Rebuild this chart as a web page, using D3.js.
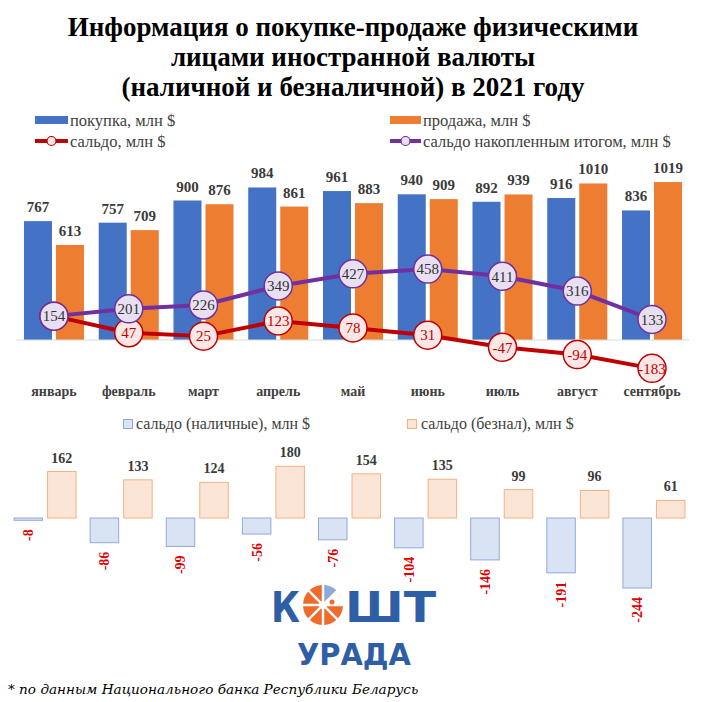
<!DOCTYPE html>
<html>
<head>
<meta charset="utf-8">
<script src="https://cdn.jsdelivr.net/npm/d3@7"></script>
<style>
body { margin: 0; background: #fff; }
svg { display: block; }
</style>
</head>
<body>
<script>
var w = 706;
var h = 702;

// data
var months = ["январь", "февраль", "март", "апрель", "май", "июнь", "июль", "август", "сентябрь"];
var buy = [767, 757, 900, 984, 961, 940, 892, 916, 836];
var sell = [613, 709, 876, 861, 883, 909, 939, 1010, 1019];
var saldo = [154, 47, 25, 123, 78, 31, -47, -94, -183];
var saldoCum = [154, 201, 226, 349, 427, 458, 411, 316, 133];
var saldoCash = [-8, -86, -99, -56, -76, -104, -146, -191, -244];
var saldoNonCash = [162, 133, 124, 180, 154, 135, 99, 96, 61];

var titleLines = ["Информация о покупке-продаже физическими", "лицами иностранной валюты", "(наличной и безналичной) в 2021 году"];

var serif = "'Liberation Serif', 'Times New Roman', serif";
var blue = "#4472c4", orange = "#ed7d31", red = "#c00000", purple = "#7030a0";

var svg = d3.select("body")
    .append("svg")
    .attr("width", w)
    .attr("height", h)
    .style("font-family", serif);

// title
svg.append("g").selectAll("text")
    .data(titleLines)
    .enter()
    .append("text")
    .attr("x", w / 2)
    .attr("y", function(d, i){ return 36 + i * 30; })
    .attr("text-anchor", "middle")
    .style("font-family", serif)
    .style("font-size", "27px")
    .style("font-weight", "bold")
    .style("fill", "#000")
    .text(function(d){ return d; });

// top legend
var leg = svg.append("g").style("font-family", serif).style("font-size", "16.5px").style("fill", "#404040");
leg.append("rect").attr("x", 35).attr("y", 116).attr("width", 33).attr("height", 8).attr("fill", blue);
leg.append("text").attr("x", 70).attr("y", 126).text("покупка, млн $");
leg.append("rect").attr("x", 390).attr("y", 116).attr("width", 31).attr("height", 8).attr("fill", orange);
leg.append("text").attr("x", 423).attr("y", 126).text("продажа, млн $");
leg.append("line").attr("x1", 35).attr("x2", 68).attr("y1", 141).attr("y2", 141).attr("stroke", red).attr("stroke-width", 4);
leg.append("circle").attr("cx", 51.5).attr("cy", 141).attr("r", 4.5).attr("fill", "#fde4e4").attr("stroke", red).attr("stroke-width", 1.2);
leg.append("text").attr("x", 70).attr("y", 147).text("сальдо, млн $");
leg.append("line").attr("x1", 390).attr("x2", 421).attr("y1", 141).attr("y2", 141).attr("stroke", purple).attr("stroke-width", 4);
leg.append("circle").attr("cx", 405.5).attr("cy", 141).attr("r", 4.5).attr("fill", "#e8e0f2").attr("stroke", purple).attr("stroke-width", 1.2);
leg.append("text").attr("x", 423).attr("y", 147).text("сальдо накопленным итогом, млн $");

// top chart scales
var x0 = d3.scaleBand()
    .domain(months)
    .range([16.6, 689.4])
    .paddingInner(0.197)
    .paddingOuter(0.0985);

var x1 = d3.scaleBand()
    .domain(["buy", "sell"])
    .range([0, x0.bandwidth()])
    .paddingInner(0.125);

var yTop = d3.scaleLinear()
    .domain([0, 1000])
    .range([340, 185]);

var series = [
    {key: "buy", values: buy, color: blue},
    {key: "sell", values: sell, color: orange}
];

var topG = svg.append("g");

series.forEach(function(s){
    var g = topG.append("g");
    g.selectAll("rect")
        .data(s.values)
        .enter()
        .append("rect")
        .attr("x", function(d, i){ return x0(months[i]) + x1(s.key); })
        .attr("y", function(d){ return yTop(d); })
        .attr("width", x1.bandwidth())
        .attr("height", function(d){ return yTop(0) - yTop(d); })
        .attr("fill", s.color);
    g.selectAll("text")
        .data(s.values)
        .enter()
        .append("text")
        .attr("x", function(d, i){ return x0(months[i]) + x1(s.key) + x1.bandwidth() / 2; })
        .attr("y", function(d){ return yTop(d) - 9; })
        .attr("text-anchor", "middle")
        .style("font-family", serif)
        .style("font-size", "15px")
        .style("font-weight", "bold")
        .style("fill", "#3a3a3a")
        .text(function(d){ return d; });
});

// baseline
topG.append("line")
    .attr("x1", x0.range()[0])
    .attr("x2", x0.range()[1])
    .attr("y1", yTop(0))
    .attr("y2", yTop(0))
    .attr("stroke", "#d9d9d9")
    .attr("stroke-width", 1);

// month axis
var xAxis = d3.axisBottom(x0).tickSize(0).tickPadding(0);
var axG = svg.append("g")
    .attr("transform", "translate(0,386)")
    .call(xAxis);
axG.select(".domain").remove();
axG.selectAll("text")
    .style("font-family", serif)
    .style("font-size", "14px")
    .style("font-weight", "bold")
    .style("fill", "#404040");

// lines with circle markers
function cx(i){ return x0(months[i]) + x0.bandwidth() / 2; }

var lineGen = d3.line()
    .x(function(d, i){ return cx(i); })
    .y(function(d){ return yTop(d); });

function drawLine(values, color, fill, textColor){
    var g = svg.append("g");
    g.append("path")
        .datum(values)
        .attr("d", lineGen)
        .attr("fill", "none")
        .attr("stroke", color)
        .attr("stroke-width", 4)
        .attr("stroke-linejoin", "round");
    var pts = g.selectAll("g")
        .data(values)
        .enter()
        .append("g")
        .attr("transform", function(d, i){ return "translate(" + cx(i) + "," + yTop(d) + ")"; });
    pts.append("circle")
        .attr("r", 14)
        .attr("fill", fill)
        .attr("stroke", color)
        .attr("stroke-width", 1.5);
    pts.append("text")
        .attr("text-anchor", "middle")
        .attr("dy", "0.35em")
        .style("font-family", serif)
        .style("font-size", "15px")
        .style("fill", textColor)
        .text(function(d){ return d; });
}

drawLine(saldo, red, "#fde6e6", "#c00000");
drawLine(saldoCum, purple, "#e8e0f2", "#333");

// bottom legend
var leg2 = svg.append("g").style("font-family", serif).style("font-size", "16px").style("fill", "#404040");
leg2.append("rect").attr("x", 123.5).attr("y", 419.5).attr("width", 9).attr("height", 9).attr("fill", "#dae3f3").attr("stroke", "#8faadc");
leg2.append("text").attr("x", 136).attr("y", 429).text("сальдо (наличные), млн $");
leg2.append("rect").attr("x", 407.5).attr("y", 419.5).attr("width", 9).attr("height", 9).attr("fill", "#fbe5d6").attr("stroke", "#f4b183");
leg2.append("text").attr("x", 421).attr("y", 429).text("сальдо (безнал), млн $");

// bottom chart
var bx0 = d3.scaleBand()
    .domain(months)
    .range([7, 692])
    .paddingInner(0.172)
    .paddingOuter(0.086);

var bx1 = d3.scaleBand()
    .domain(["cash", "noncash"])
    .range([0, bx0.bandwidth()])
    .paddingInner(0.12);

var yBot = d3.scaleLinear()
    .domain([0, 100])
    .range([518, 489.3]);

var bseries = [
    {key: "cash", values: saldoCash, fill: "#dae3f3", stroke: "#8faadc"},
    {key: "noncash", values: saldoNonCash, fill: "#fbe5d6", stroke: "#f4b183"}
];

var bottomG = svg.append("g");

bseries.forEach(function(s){
    var g = bottomG.append("g");
    g.selectAll("rect")
        .data(s.values)
        .enter()
        .append("rect")
        .attr("x", function(d, i){ return bx0(months[i]) + bx1(s.key) + 0.5; })
        .attr("y", function(d){ return Math.min(yBot(d), yBot(0)); })
        .attr("width", bx1.bandwidth() - 1)
        .attr("height", function(d){ return Math.abs(yBot(d) - yBot(0)); })
        .attr("fill", s.fill)
        .attr("stroke", s.stroke)
        .attr("stroke-width", 1);
});

// positive labels
bottomG.append("g").selectAll("text")
    .data(saldoNonCash)
    .enter()
    .append("text")
    .attr("x", function(d, i){ return bx0(months[i]) + bx1("noncash") + bx1.bandwidth() / 2; })
    .attr("y", function(d){ return yBot(d) - 9; })
    .attr("text-anchor", "middle")
    .style("font-family", serif)
    .style("font-size", "14px")
    .style("font-weight", "bold")
    .style("fill", "#3a3a3a")
    .text(function(d){ return d; });

// negative labels, rotated
bottomG.append("g").selectAll("text")
    .data(saldoCash)
    .enter()
    .append("text")
    .attr("transform", function(d, i){
        var x = bx0(months[i]) + bx1("cash") + bx1.bandwidth() / 2;
        return "translate(" + x + "," + (yBot(d) + 9) + ") rotate(-90)";
    })
    .attr("dy", "0.35em")
    .attr("text-anchor", "end")
    .style("font-family", serif)
    .style("font-size", "14px")
    .style("font-weight", "bold")
    .style("fill", "#e00000")
    .text(function(d){ return d; });

// logo
var logoBlue = "#2e5fa6", logoOrange = "#ef6b2b";
var logo = svg.append("g").style("font-family", "'DejaVu Sans', sans-serif").style("font-weight", "bold").style("fill", logoBlue);
logo.append("text").attr("x", 271).attr("y", 622).style("font-size", "43px").attr("textLength", 29).attr("lengthAdjust", "spacingAndGlyphs").text("К");
logo.append("text").attr("x", 345).attr("y", 622).style("font-size", "43px").attr("textLength", 91).attr("lengthAdjust", "spacingAndGlyphs").text("ШТ");
logo.append("text").attr("x", 297).attr("y", 665).style("font-size", "31px").attr("textLength", 114).attr("lengthAdjust", "spacingAndGlyphs").text("УРАДА");

var pieSlices = d3.range(8);
var arc = d3.arc().innerRadius(4).outerRadius(20).padAngle(0.12);
var logoPie = logo.append("g").attr("transform", "translate(323,605)");
logoPie.selectAll("path")
    .data(pieSlices.filter(function(d){ return d !== 1; }))
    .enter()
    .append("path")
    .attr("d", function(d){ return arc({startAngle: d * Math.PI / 4, endAngle: (d + 1) * Math.PI / 4}); })
    .attr("fill", function(d){ return d === 0 ? "#8fa9d8" : logoOrange; });
logoPie.append("circle").attr("cx", 9).attr("cy", -3).attr("r", 2.5).attr("fill", logoOrange);

// footnote
svg.append("text")
    .attr("x", 8)
    .attr("y", 694)
    .style("font-family", "'DejaVu Serif', serif")
    .style("font-style", "italic")
    .style("font-size", "13.6px")
    .style("fill", "#000")
    .text("* по данным Национального банка Республики Беларусь");
</script>
</body>
</html>
